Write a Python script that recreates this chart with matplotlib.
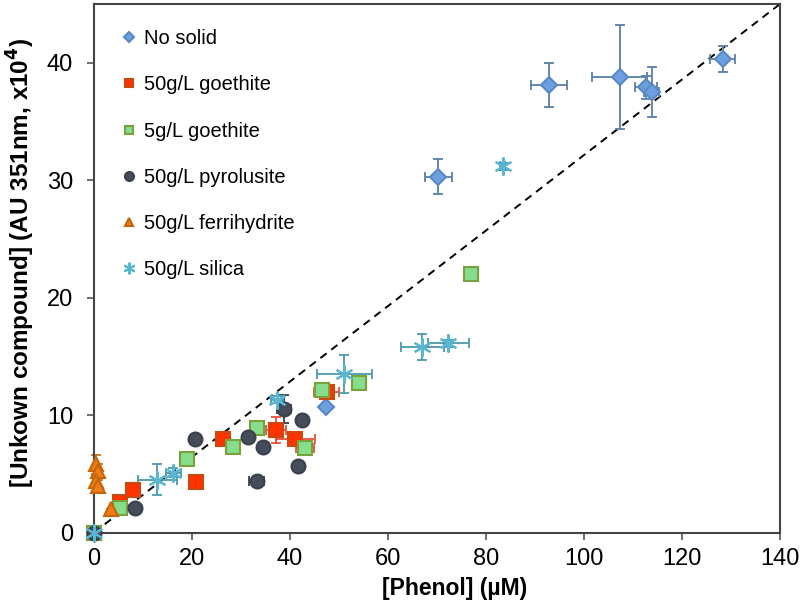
import numpy as np
import matplotlib.pyplot as plt

plt.rcParams['font.family'] = ['Liberation Sans', 'DejaVu Sans']

# No solid
ns_x = [47.4, 70.3, 92.8, 107.3, 112.7, 113.8, 128.3]
ns_y = [10.7, 30.3, 38.1, 38.8, 37.9, 37.5, 40.3]
ns_xerr = [0, 2.8, 3.7, 5.6, 2.2, 1.5, 2.6]
ns_yerr = [0, 1.5, 1.9, 4.4, 1.0, 2.1, 1.1]

# 50g/L goethite
g50_x = [0, 5.3, 7.9, 20.8, 26.4, 37.2, 41.1, 47.5]
g50_y = [0, 2.6, 3.6, 4.3, 7.95, 8.7, 8.0, 12.0]
g50_xerr = [0, 0, 0, 0, 0, 2.0, 4.0, 2.6]
g50_yerr = [0, 0, 0, 0, 0, 1.1, 0, 0]

# 5g/L goethite
g5_x = [0, 5.4, 18.9, 28.3, 33.2, 43.0, 46.5, 54.0, 77.0]
g5_y = [0, 2.1, 6.3, 7.3, 8.9, 7.2, 12.1, 12.7, 22.0]
g5_xerr = [0, 0, 0, 0, 0, 1.8, 0, 0, 0]
g5_yerr = [0, 0, 0, 0, 0, 0, 0, 0, 0]

# 50g/L pyrolusite
py_x = [0, 8.4, 20.6, 31.4, 34.5, 33.2, 38.8, 42.4, 41.6]
py_y = [0, 2.1, 7.95, 8.1, 7.3, 4.4, 10.5, 9.6, 5.7]
py_xerr = [0, 0, 0, 0, 0, 1.5, 1.5, 0, 0]
py_yerr = [0, 0, 0, 0, 0, 0, 1.2, 0, 0]

# 50g/L ferrihydrite
fh_x = [0.5, 0.8, 0.5, 0.9, 3.5]
fh_y = [5.8, 5.2, 4.4, 4.0, 2.0]
fh_xerr = [0, 0, 0, 0, 0]
fh_yerr = [0.8, 0.6, 0.6, 0.5, 0]

# 50g/L silica
si_x = [0, 12.9, 16.2, 37.3, 51.1, 67.0, 72.3, 83.4]
si_y = [0, 4.5, 5.1, 11.3, 13.5, 15.8, 16.1, 31.2]
si_xerr = [0, 4.0, 1.5, 1.2, 5.6, 4.4, 4.2, 0.5]
si_yerr = [0, 1.3, 0.4, 0.3, 1.6, 1.1, 0.3, 0.3]

fig = plt.figure(figsize=(8, 6.07), dpi=100)
ax = fig.add_axes([0.1175, 0.1227, 0.8575, 0.8707])

ax.set_xlim(0, 140)
ax.set_ylim(0, 45)
ax.plot([0, 140], [0, 45], color='black', linestyle=(0, (4, 3)), linewidth=1.4, zorder=1)

series = [
    (ns_x, ns_y, ns_xerr, ns_yerr, 'No solid', 'D', 8, '#6e9fde', '#5a88c4', '#5b7fa8'),
    (g50_x, g50_y, g50_xerr, g50_yerr, '50g/L goethite', 's', 9.5, '#ff3300', '#c84a10', '#e8503a'),
    (g5_x, g5_y, g5_xerr, g5_yerr, '5g/L goethite', 's', 9.5, '#86dd8c', '#79a23c', '#e8503a'),
    (py_x, py_y, py_xerr, py_yerr, '50g/L pyrolusite', 'o', 10, '#464d5a', '#3a404c', '#3a404c'),
    (fh_x, fh_y, fh_xerr, fh_yerr, '50g/L ferrihydrite', '^', 9.5, '#ed7d15', '#c8650a', '#d0701a'),
    (si_x, si_y, si_xerr, si_yerr, '50g/L silica', (6, 2, 0), 13, '#5ab7d4', '#5ab7d4', '#4a98ad'),
]

for x, y, xe, ye, lab, mk, ms, fc, ec, erc in series:
    ax.errorbar(x, y, xerr=xe, yerr=ye, fmt='none', ecolor=erc, elinewidth=1.3,
                capsize=3.5, capthick=1.3, zorder=2, clip_on=False)
    ax.plot(x, y, linestyle='none', marker=mk, ms=ms, mfc=fc, mec=ec,
            mew=1.5, label=lab, zorder=3, clip_on=False)

ax.set_xticks(np.arange(0, 141, 20))
ax.set_yticks(np.arange(0, 41, 10))
ax.tick_params(labelsize=17, length=5, width=1.2, color='#555555', direction='out')
ax.tick_params(axis='y', pad=10)
ax.tick_params(axis='x', pad=6)
for s in ax.spines.values():
    s.set_color('#444444')
    s.set_linewidth(1.5)

ax.set_xlabel('[Phenol] (µM)', fontsize=16.5, fontweight='bold')
ax.xaxis.set_label_coords(0.526, -0.085)
ax.set_ylabel(r'[Unkown compound] (AU 351nm, x10$^\mathbf{4}$)', fontsize=17.5, fontweight='bold')
ax.yaxis.set_label_coords(-0.083, 0.51)

ax.legend(loc='upper left', bbox_to_anchor=(0.0, 1.0), frameon=False, fontsize=14.5,
          markerscale=0.65, handlelength=1.0, handletextpad=0.25, labelspacing=1.35,
          borderaxespad=0.85)

fig.savefig('out.png', dpi=100)
